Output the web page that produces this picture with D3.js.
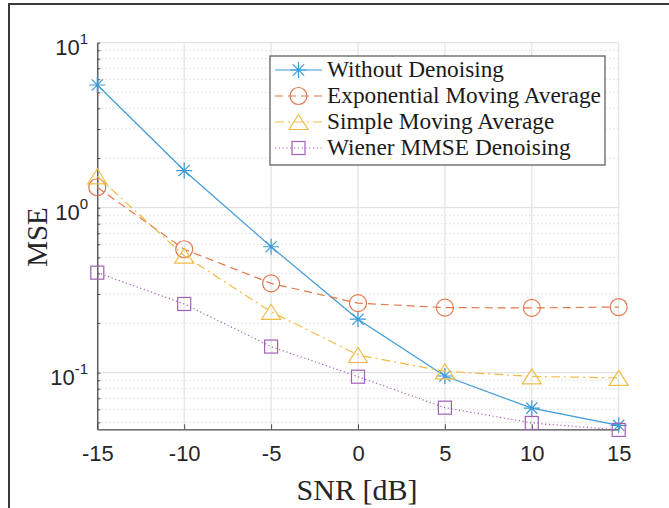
<!DOCTYPE html>
<html>
<head>
<meta charset="utf-8">
<script src="https://cdn.jsdelivr.net/npm/d3@7"></script>
<style>
    body { margin: 0; background: #fff; }
    svg { display: block; }
</style>
</head>
<body>
<svg width="669" height="508"></svg>
<script>
/****** DATA ******/

// SNR values on the x-axis
var snrValues = [-15, -10, -5, 0, 5, 10, 15];

// MSE for each method
var withoutDenoising = [5.54, 1.68, 0.58, 0.211, 0.0955, 0.061, 0.048];
var expMovingAvg     = [1.33, 0.56, 0.348, 0.264, 0.248, 0.247, 0.25];
var simpleMovingAvg  = [1.55, 0.512, 0.234, 0.128, 0.102, 0.095, 0.093];
var wienerMmse       = [0.404, 0.261, 0.144, 0.0946, 0.0614, 0.0496, 0.045];

var seriesNames = ['Without Denoising', 'Exponential Moving Average',
                   'Simple Moving Average', 'Wiener MMSE Denoising'];

var yDecades = [-1, 0, 1];

/****** LAYOUT ******/

var svg = d3.select("svg");

var plot = {left: 97.3, right: 618.7, top: 42.7, bottom: 429.3};

var x = d3.scaleLinear().domain([-15, 15]).range([plot.left, plot.right]);
var y = d3.scaleLog().domain([0.0454, 10]).range([plot.bottom, plot.top]);

var styles = [
    {color: '#3d9ad8', dash: null,      marker: 'star'},
    {color: '#e4774b', dash: '8,5',     marker: 'circle'},
    {color: '#efbd45', dash: '9,4,2,4', marker: 'triangle'},
    {color: '#a160b5', dash: '1.2,2.6', marker: 'square'}
];

var allSeries = [withoutDenoising, expMovingAvg, simpleMovingAvg, wienerMmse];

// outer frame (only top and left edges are visible in the picture)
svg.append('path')
    .attr('d', 'M9,508 L9,4 L669,4')
    .attr('fill', 'none')
    .attr('stroke', '#3a3a3a')
    .attr('stroke-width', 2);

/****** GRID ******/

var grid = svg.append('g');

// minor log grid (dotted)
var minorVals = [];
for (var d = -2; d <= 0; d++) {
    for (var m = 2; m <= 9; m++) {
        var v = m * Math.pow(10, d);
        if (v >= y.domain()[0] && v <= y.domain()[1]) minorVals.push(v);
    }
}
grid.selectAll('line.minor')
    .data(minorVals)
    .enter().append('line')
    .attr('x1', plot.left).attr('x2', plot.right)
    .attr('y1', function(v) { return y(v); })
    .attr('y2', function(v) { return y(v); })
    .attr('stroke', '#c8c8c8')
    .attr('stroke-width', 1)
    .attr('stroke-dasharray', '1,3');

// major grid
grid.selectAll('line.majory')
    .data(yDecades)
    .enter().append('line')
    .attr('x1', plot.left).attr('x2', plot.right)
    .attr('y1', function(k) { return y(Math.pow(10, k)); })
    .attr('y2', function(k) { return y(Math.pow(10, k)); })
    .attr('stroke', '#e3e3e3')
    .attr('stroke-width', 1.2);

grid.selectAll('line.majorx')
    .data(snrValues)
    .enter().append('line')
    .attr('x1', function(s) { return x(s); })
    .attr('x2', function(s) { return x(s); })
    .attr('y1', plot.top).attr('y2', plot.bottom)
    .attr('stroke', '#e3e3e3')
    .attr('stroke-width', 1.2);

/****** AXES ******/

var xAxis = d3.axisBottom(x)
    .tickValues(snrValues)
    .tickSizeInner(-5).tickSizeOuter(0)
    .tickPadding(16)
    .tickFormat(d3.format('d'));

var gx = svg.append('g')
    .attr('transform', 'translate(0,' + plot.bottom + ')')
    .call(xAxis);
gx.select('.domain').attr('stroke', '#4a4a4a').attr('stroke-width', 1.3);
gx.selectAll('.tick line').attr('stroke', '#4a4a4a');
gx.selectAll('.tick text')
    .attr('fill', '#262626')
    .attr('font-family', 'Liberation Sans, Arial, sans-serif')
    .attr('font-size', 22)
    .text(function(s) { return String(s); });

var yAxis = d3.axisLeft(y)
    .tickValues(minorVals.concat(yDecades.map(function(k) { return Math.pow(10, k); })))
    .tickSizeInner(-3).tickSizeOuter(0)
    .tickFormat('');

var gy = svg.append('g')
    .attr('transform', 'translate(' + plot.left + ',0)')
    .call(yAxis);
gy.select('.domain').attr('stroke', '#4a4a4a').attr('stroke-width', 1.3);
gy.selectAll('.tick line').attr('stroke', '#4a4a4a');

// decade labels with superscripts
var ylab = svg.append('g');
yDecades.forEach(function(k) {
    var t = ylab.append('text')
        .attr('x', 88)
        .attr('y', y(Math.pow(10, k)) + 12)
        .attr('text-anchor', 'end')
        .attr('fill', '#262626')
        .attr('font-family', 'Liberation Sans, Arial, sans-serif')
        .attr('font-size', 22);
    t.append('tspan').text('10');
    t.append('tspan')
        .attr('dy', -11)
        .attr('font-size', 15)
        .text(String(k));
});

// axis titles
svg.append('text')
    .attr('text-anchor', 'middle')
    .attr('transform', 'translate(47,237)rotate(-90)')
    .attr('font-family', 'Liberation Serif, Times New Roman, serif')
    .attr('font-size', 29)
    .attr('fill', '#262626')
    .text('MSE');

svg.append('text')
    .attr('text-anchor', 'middle')
    .attr('x', 357)
    .attr('y', 500)
    .attr('font-family', 'Liberation Serif, Times New Roman, serif')
    .attr('font-size', 30)
    .attr('fill', '#262626')
    .text('SNR [dB]');

/****** SERIES ******/

function drawMarker(g, kind, cx, cy, color) {
    if (kind === 'star') {
        var r = 8;
        var p = 'M' + (cx - r) + ',' + cy + 'L' + (cx + r) + ',' + cy +
                'M' + cx + ',' + (cy - r) + 'L' + cx + ',' + (cy + r) +
                'M' + (cx - r * 0.7) + ',' + (cy - r * 0.7) + 'L' + (cx + r * 0.7) + ',' + (cy + r * 0.7) +
                'M' + (cx - r * 0.7) + ',' + (cy + r * 0.7) + 'L' + (cx + r * 0.7) + ',' + (cy - r * 0.7);
        g.append('path').attr('d', p).attr('stroke', color).attr('stroke-width', 1.2).attr('fill', 'none');
    } else if (kind === 'circle') {
        g.append('circle').attr('cx', cx).attr('cy', cy).attr('r', 8.5)
            .attr('fill', 'none').attr('stroke', color).attr('stroke-width', 1.2);
    } else if (kind === 'triangle') {
        var w = 9.5, h = 7.5;
        g.append('path')
            .attr('d', 'M' + cx + ',' + (cy - h) + 'L' + (cx + w) + ',' + (cy + h) + 'L' + (cx - w) + ',' + (cy + h) + 'Z')
            .attr('fill', 'none').attr('stroke', color).attr('stroke-width', 1.2);
    } else {
        var s = 6.5;
        g.append('rect').attr('x', cx - s).attr('y', cy - s).attr('width', 2 * s).attr('height', 2 * s)
            .attr('fill', 'none').attr('stroke', color).attr('stroke-width', 1.2);
    }
}

var line = d3.line()
    .x(function(d, i) { return x(snrValues[i]); })
    .y(function(d) { return y(d); });

var seriesG = svg.append('g');
allSeries.forEach(function(vals, si) {
    var st = styles[si];
    seriesG.append('path')
        .datum(vals)
        .attr('d', line)
        .attr('fill', 'none')
        .attr('stroke', st.color)
        .attr('stroke-width', 1.2)
        .attr('stroke-dasharray', st.dash);
    vals.forEach(function(v, i) {
        drawMarker(seriesG, st.marker, x(snrValues[i]), y(v), st.color);
    });
});

/****** LEGEND ******/

var legend = svg.append('g');
legend.append('rect')
    .attr('x', 270).attr('y', 56)
    .attr('width', 335).attr('height', 109)
    .attr('fill', '#fff')
    .attr('stroke', '#555')
    .attr('stroke-width', 1.2);

seriesNames.forEach(function(name, i) {
    var st = styles[i];
    var ly = 70 + i * 26;
    legend.append('line')
        .attr('x1', 275).attr('x2', 322)
        .attr('y1', ly).attr('y2', ly)
        .attr('stroke', st.color)
        .attr('stroke-width', 1.2)
        .attr('stroke-dasharray', st.dash);
    drawMarker(legend, st.marker, 298.5, ly, st.color);
    legend.append('text')
        .attr('x', 327)
        .attr('y', ly + 7)
        .attr('font-family', 'Liberation Serif, Times New Roman, serif')
        .attr('font-size', 23.3)
        .attr('fill', '#1a1a1a')
        .text(name);
});
</script>
</body>
</html>
